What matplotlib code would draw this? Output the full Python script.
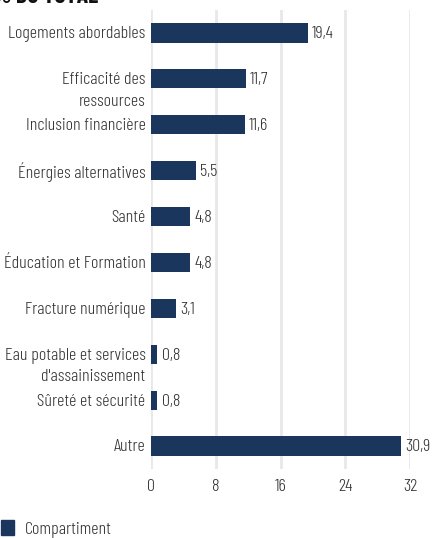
import matplotlib
matplotlib.use("Agg")
from matplotlib import pyplot as plt
import matplotlib.patches as mpatches

categories = [
    "Logements abordables",
    "Efficacité des\nressources",
    "Inclusion financière",
    "Énergies alternatives",
    "Santé",
    "Éducation et Formation",
    "Fracture numérique",
    "Eau potable et services\nd'assainissement",
    "Sûreté et sécurité",
    "Autre",
]
values = [19.4, 11.7, 11.6, 5.5, 4.8, 4.8, 3.1, 0.8, 0.8, 30.9]
xticks = [0, 8, 16, 24, 32]

navy = "#1b365d"
text_color = "#333333"
plt.rcParams["font.family"] = ["Barlow Condensed", "DejaVu Sans"]
plt.rcParams["font.weight"] = 300
fs = 13

fig = plt.figure(figsize=(4.36, 5.38), dpi=100)
ax = fig.add_axes([151 / 436, 69 / 538, 259 / 436, 459 / 538])

y = list(range(len(categories)))
ax.barh(y, values, height=0.42, color=navy, zorder=3)
ax.set_ylim(len(categories) - 0.5, -0.5)
ax.set_xlim(0, 32)

for i, v in enumerate(values):
    ax.annotate(f"{v:.1f}".replace(".", ","), xy=(v, i), xytext=(3, -1),
                textcoords="offset points", ha="left", va="center",
                fontsize=fs, color=text_color)

# category labels, first line centred on the bar, second line below
ax.set_yticks([])
for i, cat in enumerate(categories):
    for k, line in enumerate(cat.split("\n")):
        ax.annotate(line, xy=(0, i), xycoords=("axes fraction", "data"),
                    xytext=(-4, -1 - 15.5 * k), textcoords="offset points",
                    ha="right", va="center", fontsize=fs, color=text_color)

ax.set_xticks(xticks)
ax.set_xticklabels([str(t) for t in xticks], fontsize=fs, color=text_color)
ax.tick_params(axis="x", length=0, pad=7)
ax.grid(axis="x", color="#e8e8e8", linewidth=2, zorder=0)
for s in ax.spines.values():
    s.set_visible(False)

fig.text(98 / 436, 1 - 3 / 538, "EN % DU TOTAL", ha="right", va="baseline",
         fontsize=17, fontweight="bold", color="#111111")

fig.legend(handles=[mpatches.Patch(color=navy, label="Compartiment")],
           loc="lower left", bbox_to_anchor=(-0.036, -0.03), frameon=False,
           fontsize=fs, handlelength=0.75, handleheight=0.9, handletextpad=0.6,
           labelcolor=text_color)

fig.savefig("out.png", dpi=100)
